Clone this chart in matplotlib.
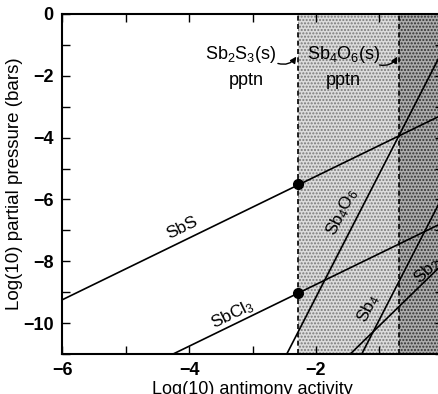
import matplotlib
matplotlib.use("Agg")
import matplotlib.pyplot as plt

plt.rcParams['font.family'] = ['Liberation Sans', 'DejaVu Sans']
plt.rcParams['mathtext.default'] = 'regular'

# gas species lines, end points (x = log activity, y = log p)
sbs_x = [-6.0, 0.0]
sbs_y = [-9.25, -3.25]
sbcl3_x = [-4.25, 0.0]
sbcl3_y = [-11.0, -6.75]
sb4o6_x = [-2.46, 0.0]
sb4o6_y = [-11.0, -1.16]
sb4_x = [-1.28, 0.0]
sb4_y = [-11.0, -5.88]
sb2_x = [-1.46, 0.0]
sb2_y = [-11.0, -8.08]

# precipitation boundaries
sb2s3_edge = -2.28
sb4o6_edge = -0.69

# points on the Sb2S3 boundary
dot_x = [-2.28, -2.28]
dot_y = [-5.5, -9.03]

xticks = [-6, -4, -2, 0]
yticks = [0, -2, -4, -6, -8, -10]

fig = plt.figure(figsize=(4.39, 3.94), dpi=100)
ax = fig.add_axes([62 / 439, 1 - 354 / 394, 381 / 439, 340 / 394])

ax.set_xlim(-6, 0)
ax.set_ylim(-11, 0)

# stippled regions
ax.axvspan(sb2s3_edge, sb4o6_edge, facecolor='#dcdcdc', edgecolor='#7a7a7a',
           hatch='.....', linewidth=0, zorder=0)
ax.axvspan(sb4o6_edge, 0, facecolor='#acacac', edgecolor='#303030',
           hatch='.....', linewidth=0, zorder=0)
ax.axvline(sb2s3_edge, color='black', ls=(0, (3, 2)), lw=1.2, zorder=1)
ax.axvline(sb4o6_edge, color='black', ls=(0, (3, 2)), lw=1.2, zorder=1)

for xs, ys in [(sbs_x, sbs_y), (sbcl3_x, sbcl3_y), (sb4o6_x, sb4o6_y),
               (sb4_x, sb4_y), (sb2_x, sb2_y)]:
    ax.plot(xs, ys, color='black', lw=1.2, zorder=2)

ax.plot(dot_x, dot_y, 'o', color='black', ms=7, zorder=3)

lab = dict(fontsize=12.5, ha='center', va='center', rotation_mode='anchor')
ax.text(-4.11, -6.93, 'SbS', rotation=26, **lab)
ax.text(-3.32, -9.72, 'SbCl$_3$', rotation=26, **lab)
ax.text(-1.59, -6.41, 'Sb$_4$O$_6$', rotation=63, **lab)
ax.text(-1.18, -9.52, 'Sb$_4$', rotation=63, **lab)
ax.text(-0.25, -8.3, 'Sb$_2$', rotation=44, **lab)

ax.text(-3.18, -1.3, 'Sb$_2$S$_3$(s)', fontsize=13, ha='center', va='center')
ax.text(-3.1, -2.15, 'pptn', fontsize=13, ha='center', va='center')
ax.text(-1.57, -1.3, 'Sb$_4$O$_6$(s)', fontsize=13, ha='center', va='center')
ax.text(-1.57, -2.15, 'pptn', fontsize=13, ha='center', va='center')

arrow = dict(arrowstyle='-|>', color='black', lw=1.0, mutation_scale=9,
             connectionstyle='arc3,rad=0.35', shrinkA=0, shrinkB=0)
ax.annotate('', xy=(-2.31, -1.38), xytext=(-2.6, -1.6), arrowprops=arrow)
ax.annotate('', xy=(-0.72, -1.38), xytext=(-1.0, -1.65), arrowprops=arrow)

ax.set_xticks(xticks)
ax.set_yticks(yticks)
ax.set_xticks(range(-6, 1), minor=True)
ax.set_yticks(range(-11, 1), minor=True)
ax.tick_params(which='both', direction='in', top=True, right=True, width=1.0)
ax.tick_params(which='major', length=6, labelsize=13, pad=6)
ax.tick_params(which='minor', length=6)
for t in ax.get_xticklabels() + ax.get_yticklabels():
    t.set_fontweight('bold')
for s in ax.spines.values():
    s.set_linewidth(1.5)

ax.set_xlabel('Log(10) antimony activity', fontsize=13, labelpad=1)
ax.set_ylabel('Log(10) partial pressure (bars)', fontsize=13.5, labelpad=0)

fig.savefig('out.png', dpi=100)
